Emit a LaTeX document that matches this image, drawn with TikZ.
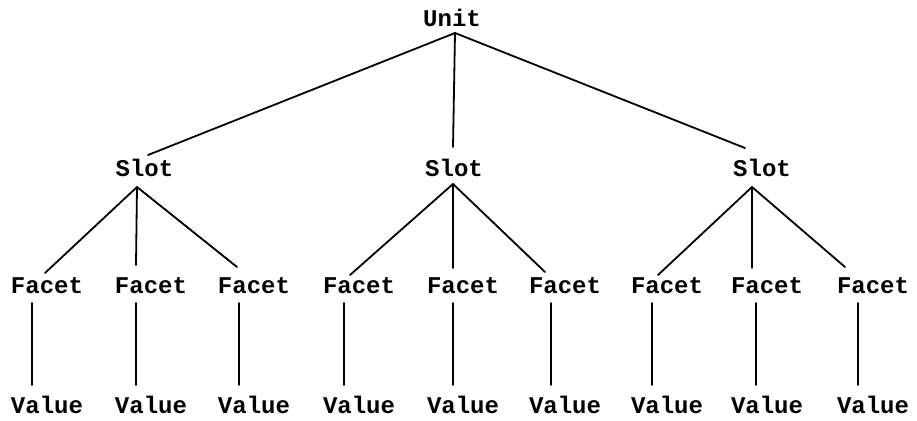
\documentclass[tikz,border=0pt]{standalone}
\usepackage{fontspec}
\setmonofont{Liberation Mono}
\begin{document}
\begin{tikzpicture}[x=1pt,y=-1pt,
  label/.style={font=\ttfamily\bfseries\fontsize{24}{24}\selectfont, inner sep=0pt, anchor=base},
  edge/.style={line width=1.8pt, line cap=round}]
\useasboundingbox (0,0) rectangle (917,420);

% root
\node[label] (u) at (452,27) {Unit};
\coordinate (ua) at (455,33);

% slots
\foreach \i/\x/\tx/\ty/\ax/\ay in {1/144.5/148/155/137/187, 2/454/453/147/453/184, 3/762/745/148/752/187}{
  \node[label] (s\i) at (\x,176) {Slot};
  \coordinate (st\i) at (\tx,\ty);
  \coordinate (sa\i) at (\ax,\ay);
}

% facets and values
\foreach \i/\x/\tx/\ty/\lx in {1/47/45/273/32, 2/151/136/265/136, 3/254/237/267/239,
                               4/359/350/275/344, 5/463/453/268/453, 6/565/545/272/551,
                               7/667/658/275/652, 8/767/752/268/756, 9/873/845/267/858}{
  \node[label] (f\i) at (\x,293) {Facet};
  \node[label] (v\i) at (\x,413) {Value};
  \coordinate (ft\i) at (\tx,\ty);
  \coordinate (fb\i) at (\lx,303);
  \coordinate (vt\i) at (\lx,385);
}

% unit to slots
\foreach \i in {1,2,3}{\draw[edge] (ua) -- (st\i);}

% slots to facets
\foreach \s/\a/\b/\c in {1/1/2/3, 2/4/5/6, 3/7/8/9}{
  \draw[edge] (sa\s) -- (ft\a);
  \draw[edge] (sa\s) -- (ft\b);
  \draw[edge] (sa\s) -- (ft\c);
}

% facets to values
\foreach \i in {1,...,9}{\draw[edge] (fb\i) -- (vt\i);}
\end{tikzpicture}
\end{document}
